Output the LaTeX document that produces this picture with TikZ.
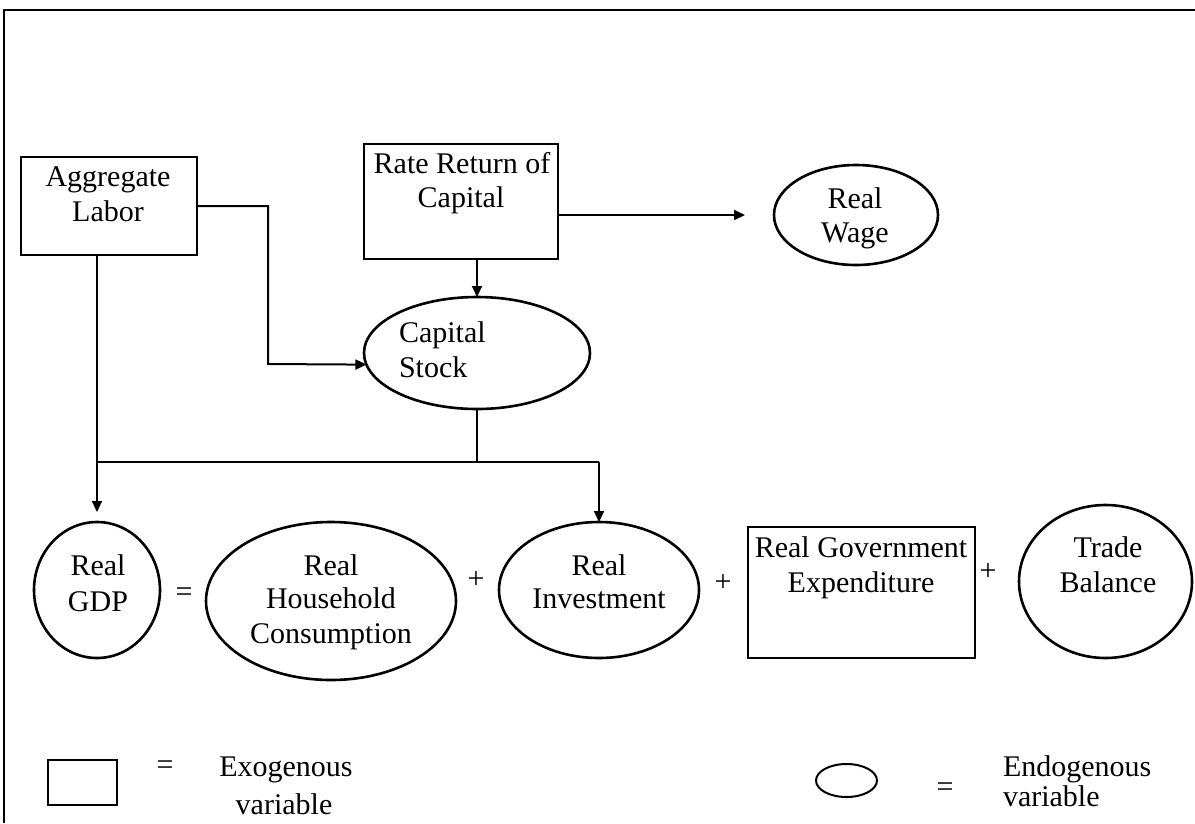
\documentclass[tikz,border=0pt]{standalone}
\usepackage{fontspec}
\setmainfont{Liberation Serif}
\usetikzlibrary{arrows.meta,shapes.geometric}
\tikzset{
  shp/.style={draw, line width=2.6pt, inner sep=0pt, outer sep=0pt},
  boxn/.style={shp, rectangle},
  ovaln/.style={shp, ellipse},
  txt/.style={inner sep=0pt, outer sep=0pt, anchor=base, font=\fontsize{30}{34}\selectfont},
  sym/.style={inner sep=0pt, outer sep=0pt, anchor=center, font=\fontsize{30}{34}\selectfont},
  conn/.style={line width=2pt},
  arr/.style={conn, -{Triangle[length=11pt,width=10pt]}}
}
\begin{document}
\begin{tikzpicture}[x=1pt,y=-1pt]
\useasboundingbox (0,0) rectangle (1195,823);
% frame
\draw[line width=2.8pt] (4,823) -- (4,10) -- (1195,10);

% shapes
\node[boxn, minimum width=176pt, minimum height=98pt] (agg) at (109,206) {};
\node[boxn, minimum width=194pt, minimum height=115pt] (rate) at (461,201.5) {};
\node[ovaln, minimum width=164pt, minimum height=100pt] (wage) at (856,215) {};
\node[ovaln, minimum width=226pt, minimum height=112pt] (cap) at (477,353) {};
\node[ovaln, minimum width=126pt, minimum height=136pt] (gdp) at (97,590) {};
\node[ovaln, minimum width=250pt, minimum height=158pt] (hh) at (331,601) {};
\node[ovaln, minimum width=200pt, minimum height=136pt] (inv) at (599,590) {};
\node[boxn, minimum width=227pt, minimum height=131pt] (gov) at (861.5,592.5) {};
\node[ovaln, minimum width=173pt, minimum height=153pt] (trade) at (1105.5,581.5) {};
\node[boxn, line width=2pt, minimum width=69pt, minimum height=45pt] (legbox) at (82.5,782.5) {};
\node[ovaln, line width=2pt, minimum width=61pt, minimum height=33pt] (legoval) at (846.5,780.5) {};

% texts
\node[txt] (t-agg1) at (108,186) {Aggregate};
\node[txt] (t-agg2) at (108,221) {Labor};
\node[txt] (t-rate1) at (462,173) {Rate Return of};
\node[txt] (t-rate2) at (461,207) {Capital};
\node[txt] (t-wage1) at (855,208) {Real};
\node[txt] (t-wage2) at (855,242) {Wage};
\node[txt, anchor=base west] (t-cap1) at (399,342) {Capital};
\node[txt, anchor=base west] (t-cap2) at (399,377) {Stock};
\node[txt] (t-gdp1) at (98,575) {Real};
\node[txt] (t-gdp2) at (98,611) {GDP};
\node[txt] (t-hh1) at (331,575) {Real};
\node[txt] (t-hh2) at (331,608) {Household};
\node[txt] (t-hh3) at (331,643) {Consumption};
\node[txt] (t-inv1) at (599,575) {Real};
\node[txt] (t-inv2) at (599,608) {Investment};
\node[txt] (t-gov1) at (861,557) {Real Government};
\node[txt] (t-gov2) at (861,592) {Expenditure};
\node[txt] (t-tr1) at (1108,557) {Trade};
\node[txt] (t-tr2) at (1108,592) {Balance};

% operators
\node[sym] (eq1) at (184,595) {=};
\node[sym] (pl1) at (476,580) {+};
\node[sym] (pl2) at (723,583) {+};
\node[sym] (pl3) at (988,572) {+};

% legend
\node[sym] (eq2) at (165,768) {=};
\node[txt] (t-exo1) at (286,776) {Exogenous};
\node[txt] (t-exo2) at (284,814) {variable};
\node[sym] (eq3) at (945,790) {=};
\node[txt, anchor=base west] (t-endo1) at (1003,776) {Endogenous};
\node[txt, anchor=base west] (t-endo2) at (1003,806) {variable};

% connectors
\coordinate (bend) at (268,364);
\coordinate (jn) at (0,462);
\draw[arr] (agg.east) -| (bend) -- (cap.186);
\draw[arr] (rate.south -| cap.north) -- (cap.north);
\draw[arr] (rate.east |- wage.west) -- ([xshift=-29pt]wage.west);
\draw[arr] (agg.south -| gdp.north) -- ([yshift=10pt]gdp.north);
\draw[conn] (gdp.north |- jn) -- (inv.north |- jn);
\draw[conn] (cap.south) -- (cap.south |- jn);
\draw[arr] (inv.north |- jn) -- (inv.north);
\end{tikzpicture}
\end{document}
